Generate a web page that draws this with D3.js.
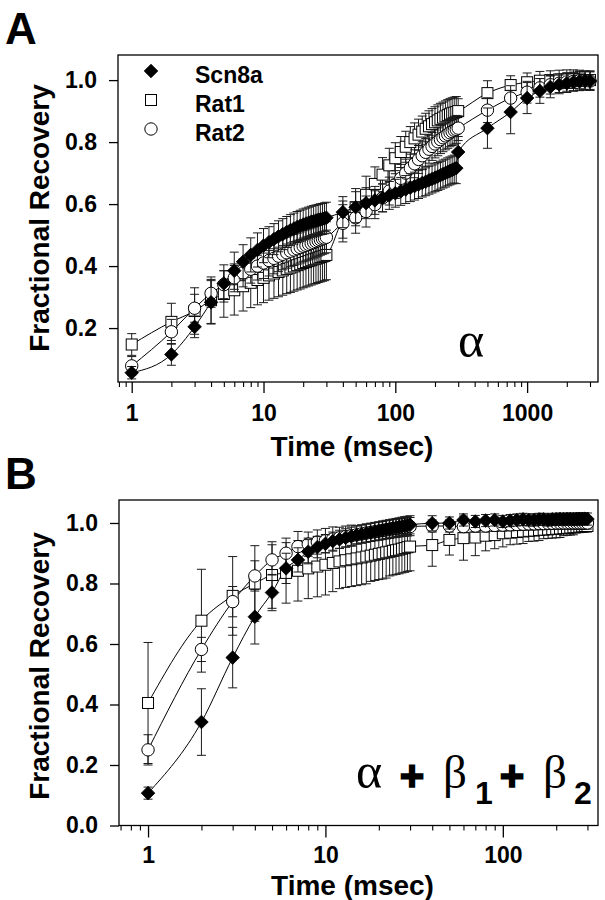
<!DOCTYPE html>
<html><head><meta charset="utf-8">
<script src="https://cdn.jsdelivr.net/npm/d3@7"></script>
<style>body{margin:0;background:#fff}</style>
</head><body>
<svg id="c" width="605" height="900" xmlns="http://www.w3.org/2000/svg"></svg>
<script>
// ---------------- DATA ----------------
const seriesNames = ["Scn8a", "Rat1", "Rat2"];

// Panel A (alpha alone): time points (msec)
const tA_early = [1,2,3,4,5,6,7,8,9,10,11,12,13,14,15,16,17,18,19,20,21,22,23,24,25,26,27,28,29,30];
const tA_mid   = [40,50,60,70,80,90,100,110,120,130,140,150,160,170,180,190,200,210,220,230,240,250,260,270,280,290];
const tA_long  = [300,500,750,1000,1250,1500,1750,2000,2250,2500,2750,3000];

const A_Scn8a_early = [0.056,0.115,0.204,0.283,0.344,0.385,0.414,0.436,0.452,0.466,0.477,0.487,0.496,0.503,0.510,0.516,0.521,0.526,0.530,0.534,0.537,0.540,0.543,0.545,0.547,0.549,0.551,0.552,0.554,0.556];
const A_Scn8a_early_err = [0.02,0.035,0.035,0.07,0.06,0.06,0.055,0.055,0.055,0.055,0.05,0.05,0.05,0.05,0.05,0.05,0.05,0.05,0.05,0.05,0.05,0.05,0.05,0.05,0.05,0.05,0.05,0.05,0.05,0.05];
const A_Scn8a_mid = [0.574,0.590,0.603,0.612,0.620,0.628,0.635,0.641,0.647,0.653,0.658,0.663,0.668,0.672,0.677,0.681,0.685,0.689,0.693,0.697,0.700,0.704,0.707,0.710,0.713,0.716];
const A_Scn8a_mid_err = [0.05,0.05,0.05,0.045,0.045,0.045,0.045,0.045,0.045,0.045,0.045,0.045,0.045,0.045,0.045,0.045,0.045,0.045,0.045,0.045,0.045,0.045,0.045,0.045,0.045,0.05];
const A_Scn8a_long = [0.768,0.845,0.897,0.942,0.965,0.978,0.986,0.990,0.994,0.996,0.998,0.997];
const A_Scn8a_long_err = [0.05,0.065,0.07,0.05,0.04,0.035,0.03,0.03,0.03,0.03,0.03,0.03];

const A_Rat1_early = [0.147,0.220,0.255,0.290,0.310,0.322,0.335,0.346,0.355,0.362,0.370,0.376,0.381,0.386,0.391,0.395,0.399,0.403,0.406,0.410,0.413,0.416,0.419,0.422,0.424,0.427,0.429,0.431,0.433,0.436];
const A_Rat1_early_err = [0.035,0.06,0.075,0.075,0.075,0.08,0.08,0.08,0.08,0.08,0.08,0.08,0.08,0.08,0.08,0.08,0.08,0.08,0.08,0.08,0.08,0.08,0.08,0.08,0.08,0.08,0.08,0.08,0.08,0.08];
const A_Rat1_mid = [0.550,0.590,0.630,0.665,0.695,0.725,0.748,0.768,0.785,0.800,0.812,0.824,0.834,0.843,0.851,0.858,0.864,0.870,0.875,0.879,0.883,0.887,0.890,0.893,0.895,0.897];
const A_Rat1_mid_err = [0.06,0.06,0.06,0.055,0.055,0.055,0.05,0.05,0.05,0.05,0.05,0.05,0.05,0.05,0.05,0.05,0.05,0.05,0.05,0.05,0.05,0.05,0.05,0.05,0.05,0.05];
const A_Rat1_long = [0.900,0.958,0.984,0.993,0.998,1.000,1.002,1.003,1.003,1.002,1.000,1.000];
const A_Rat1_long_err = [0.04,0.04,0.03,0.03,0.03,0.03,0.03,0.03,0.03,0.03,0.03,0.03];

const A_Rat2_early = [0.078,0.188,0.264,0.312,0.340,0.362,0.378,0.390,0.400,0.410,0.418,0.425,0.432,0.438,0.443,0.448,0.452,0.456,0.460,0.464,0.467,0.470,0.473,0.476,0.479,0.482,0.485,0.488,0.490,0.493];
const A_Rat2_early_err = [0.03,0.04,0.045,0.045,0.045,0.045,0.045,0.045,0.045,0.05,0.05,0.05,0.05,0.05,0.05,0.05,0.05,0.05,0.05,0.05,0.05,0.05,0.05,0.05,0.05,0.05,0.05,0.05,0.05,0.05];
const A_Rat2_mid = [0.538,0.556,0.576,0.598,0.620,0.642,0.663,0.683,0.700,0.716,0.730,0.744,0.756,0.767,0.777,0.786,0.794,0.801,0.808,0.814,0.820,0.825,0.830,0.834,0.838,0.841];
const A_Rat2_mid_err = [0.06,0.05,0.05,0.045,0.045,0.045,0.045,0.045,0.045,0.045,0.045,0.045,0.045,0.045,0.045,0.045,0.045,0.045,0.045,0.045,0.045,0.045,0.045,0.045,0.045,0.045];
const A_Rat2_long = [0.845,0.903,0.942,0.961,0.975,0.985,0.990,0.994,0.996,0.998,0.998,0.997];
const A_Rat2_long_err = [0.04,0.04,0.04,0.035,0.03,0.03,0.03,0.03,0.03,0.03,0.03,0.03];

// Panel B (alpha + beta1 + beta2)
const tB_early = [1,2,3,4,5,6,7,8,9,10,11,12,13,14,15,16,17,18,19,20,21,22,23,24,25,26,27,28,29,30];
const tB_mid   = [40,50,60,70,80,90,100,110,120,130,140,150,160,170,180,190,200,210,220,230,240,250,260,270,280,290,300];

const B_Scn8a_early = [0.107,0.342,0.555,0.690,0.770,0.850,0.878,0.905,0.920,0.931,0.940,0.946,0.951,0.956,0.960,0.963,0.966,0.969,0.972,0.974,0.977,0.979,0.981,0.983,0.985,0.987,0.989,0.991,0.992,0.994];
const B_Scn8a_early_err = [0.02,0.11,0.10,0.09,0.06,0.05,0.04,0.04,0.035,0.03,0.03,0.03,0.03,0.03,0.03,0.03,0.03,0.03,0.03,0.03,0.03,0.03,0.03,0.03,0.03,0.03,0.03,0.03,0.03,0.03];
const B_Scn8a_mid = [0.999,1.000,1.010,1.005,1.008,1.010,1.005,1.008,1.010,1.012,1.010,1.010,1.012,1.012,1.010,1.012,1.012,1.013,1.012,1.013,1.013,1.012,1.013,1.014,1.013,1.014,1.013];
const B_Scn8a_mid_err = [0.025,0.02,0.02,0.02,0.02,0.02,0.02,0.02,0.02,0.02,0.02,0.02,0.02,0.02,0.02,0.02,0.02,0.02,0.02,0.02,0.02,0.02,0.02,0.02,0.02,0.02,0.02];

const B_Rat1_early = [0.405,0.677,0.759,0.800,0.828,0.835,0.842,0.850,0.856,0.862,0.868,0.873,0.877,0.880,0.883,0.886,0.889,0.892,0.895,0.898,0.900,0.903,0.905,0.908,0.910,0.912,0.915,0.917,0.920,0.922];
const B_Rat1_early_err = [0.20,0.17,0.13,0.125,0.11,0.10,0.10,0.10,0.10,0.10,0.095,0.09,0.09,0.09,0.09,0.09,0.09,0.085,0.085,0.085,0.085,0.085,0.08,0.08,0.08,0.08,0.08,0.08,0.08,0.08];
const B_Rat1_mid = [0.927,0.944,0.950,0.952,0.958,0.960,0.966,0.968,0.970,0.972,0.974,0.975,0.977,0.978,0.979,0.980,0.981,0.982,0.983,0.984,0.985,0.986,0.987,0.988,0.989,0.990,0.990];
const B_Rat1_mid_err = [0.07,0.05,0.073,0.06,0.05,0.045,0.045,0.04,0.04,0.04,0.035,0.035,0.035,0.03,0.03,0.03,0.03,0.03,0.025,0.025,0.025,0.025,0.02,0.02,0.02,0.02,0.02];

const B_Rat2_early = [0.250,0.582,0.740,0.825,0.878,0.900,0.922,0.930,0.937,0.942,0.947,0.951,0.955,0.958,0.961,0.964,0.967,0.969,0.971,0.973,0.975,0.977,0.979,0.981,0.982,0.984,0.985,0.986,0.987,0.988];
const B_Rat2_early_err = [0.05,0.04,0.05,0.05,0.05,0.05,0.05,0.04,0.04,0.04,0.04,0.035,0.035,0.035,0.03,0.03,0.03,0.03,0.03,0.03,0.03,0.03,0.03,0.03,0.03,0.03,0.03,0.03,0.03,0.03];
const B_Rat2_mid = [0.990,0.990,0.988,0.990,0.990,0.992,0.993,0.994,0.995,0.996,0.997,0.997,0.998,0.998,0.999,0.999,1.000,1.000,1.000,1.000,1.000,1.000,1.000,1.000,1.000,1.000,1.000];
const B_Rat2_mid_err = [0.02,0.02,0.02,0.02,0.02,0.02,0.02,0.02,0.02,0.02,0.02,0.02,0.02,0.02,0.02,0.02,0.02,0.02,0.02,0.02,0.02,0.02,0.02,0.02,0.02,0.02,0.02];

// Axis ticks
const yTickVals_A = [0.2,0.4,0.6,0.8,1.0];
const yTickVals_B = [0.0,0.2,0.4,0.6,0.8,1.0];
const xMajor_A = [1,10,100,1000];
const xMinor_A = [0.8,0.9,2,3,4,5,6,7,8,9,20,30,40,50,60,70,80,90,200,300,400,500,600,700,800,900,2000,3000];
const xMajor_B = [1,10,100];
const xMinor_B = [0.7,0.8,0.9,2,3,4,5,6,7,8,9,20,30,40,50,60,70,80,90,200,300];

// ---------------- DRAWING ----------------
const SANS = "'Liberation Sans', Arial, Helvetica, sans-serif";
const SERIF = "'Liberation Serif', 'Times New Roman', serif";
const svg = d3.select("#c");

function zipPts(ts, vs, es) { return ts.map((t,i) => ({t, v: vs[i], e: es[i]})); }

function marker(g, type, cx, cy) {
  if (type === "diamond") {
    const r = 6.8;
    g.append("path").attr("d", `M${cx},${cy-r}L${cx+r},${cy}L${cx},${cy+r}L${cx-r},${cy}Z`)
      .attr("fill", "#000").attr("stroke", "#000").attr("stroke-width", 0.8);
  } else if (type === "square") {
    const h = 5.5;
    g.append("rect").attr("x", cx-h).attr("y", cy-h).attr("width", 2*h).attr("height", 2*h)
      .attr("fill", "#fff").attr("stroke", "#000").attr("stroke-width", 1);
  } else {
    g.append("circle").attr("cx", cx).attr("cy", cy).attr("r", 6.2)
      .attr("fill", "#fff").attr("stroke", "#000").attr("stroke-width", 1);
  }
}

function drawPanel(o) {
  const x = d3.scaleLog().domain(o.xDomain).range([o.left, o.right]);
  const y = d3.scaleLinear().domain(o.yDomain).range([o.bottom, o.top]);
  const g = svg.append("g");

  // lines
  o.series.forEach(s => {
    g.append("path").datum(s.pts)
      .attr("fill", "none").attr("stroke", "#000").attr("stroke-width", 1)
      .attr("d", d3.line().x(d => x(d.t)).y(d => y(d.v)).curve(d3.curveMonotoneX));
  });
  // error bars + markers, series by series
  o.series.forEach(s => {
    const eg = g.append("g").attr("stroke", "#1a1a1a").attr("stroke-width", 1);
    s.pts.forEach(d => {
      const px = x(d.t), y1 = y(d.v + d.e), y2 = y(d.v - d.e);
      eg.append("line").attr("x1", px).attr("x2", px).attr("y1", y1).attr("y2", y2);
      eg.append("line").attr("x1", px-4.5).attr("x2", px+4.5).attr("y1", y1).attr("y2", y1);
      eg.append("line").attr("x1", px-4.5).attr("x2", px+4.5).attr("y1", y2).attr("y2", y2);
    });
    const mg = g.append("g");
    s.pts.forEach(d => marker(mg, s.type, x(d.t), y(d.v)));
  });

  // frame
  g.append("rect").attr("x", o.left).attr("y", o.top)
    .attr("width", o.right - o.left).attr("height", o.bottom - o.top)
    .attr("fill", "none").attr("stroke", "#000").attr("stroke-width", 1.3);

  // y axis
  const ya = g.append("g").attr("transform", `translate(${o.left},0)`)
    .call(d3.axisLeft(y).tickValues(o.yTicks).tickFormat(d3.format(".1f")).tickSize(9).tickPadding(12));
  ya.select(".domain").remove();
  ya.selectAll("line").attr("stroke-width", 1.3);
  ya.selectAll("text").attr("font-family", SANS).attr("font-weight", "bold").attr("font-size", 23).attr("fill", "#000");

  // x axis major
  const xa = g.append("g").attr("transform", `translate(0,${o.bottom})`)
    .call(d3.axisBottom(x).tickValues(o.xMajor).tickFormat(d3.format("d")).tickSize(o.majorLen).tickPadding(o.xPad));
  xa.select(".domain").remove();
  xa.selectAll("line").attr("stroke-width", 1.3);
  xa.selectAll("text").attr("font-family", SANS).attr("font-weight", "bold").attr("font-size", 23).attr("fill", "#000");
  // x axis minor
  const xm = g.append("g").attr("transform", `translate(0,${o.bottom})`)
    .call(d3.axisBottom(x).tickValues(o.xMinor).tickFormat("").tickSize(5));
  xm.select(".domain").remove();
  xm.selectAll("line").attr("stroke-width", 1.1);

  // axis titles
  g.append("text").attr("x", (o.left + o.right) / 2 - 6).attr("y", o.xTitleY)
    .attr("text-anchor", "middle").attr("font-family", SANS).attr("font-weight", "bold")
    .attr("font-size", 28).text("Time (msec)");
  g.append("text").attr("transform", `translate(${o.yTitleX},${o.yTitleCY}) rotate(-90)`)
    .attr("text-anchor", "middle").attr("font-family", SANS).attr("font-weight", "bold")
    .attr("font-size", 28).text("Fractional Recovery");
  // panel letter
  g.append("text").attr("x", 5).attr("y", o.letterY).attr("font-family", SANS).attr("font-weight", "bold")
    .attr("font-size", 44).text(o.letter);
  return {x, y, g};
}

const seriesA = [
  {name: "Rat1", type: "square", pts: zipPts(tA_early.concat(tA_mid, tA_long), A_Rat1_early.concat(A_Rat1_mid, A_Rat1_long), A_Rat1_early_err.concat(A_Rat1_mid_err, A_Rat1_long_err))},
  {name: "Rat2", type: "circle", pts: zipPts(tA_early.concat(tA_mid, tA_long), A_Rat2_early.concat(A_Rat2_mid, A_Rat2_long), A_Rat2_early_err.concat(A_Rat2_mid_err, A_Rat2_long_err))},
  {name: "Scn8a", type: "diamond", pts: zipPts(tA_early.concat(tA_mid, tA_long), A_Scn8a_early.concat(A_Scn8a_mid, A_Scn8a_long), A_Scn8a_early_err.concat(A_Scn8a_mid_err, A_Scn8a_long_err))}
];
const seriesB = [
  {name: "Rat1", type: "square", pts: zipPts(tB_early.concat(tB_mid), B_Rat1_early.concat(B_Rat1_mid), B_Rat1_early_err.concat(B_Rat1_mid_err))},
  {name: "Rat2", type: "circle", pts: zipPts(tB_early.concat(tB_mid), B_Rat2_early.concat(B_Rat2_mid), B_Rat2_early_err.concat(B_Rat2_mid_err))},
  {name: "Scn8a", type: "diamond", pts: zipPts(tB_early.concat(tB_mid), B_Scn8a_early.concat(B_Scn8a_mid), B_Scn8a_early_err.concat(B_Scn8a_mid_err))}
];

const pA = drawPanel({
  letter: "A", letterY: 44,
  left: 118, right: 598, top: 55, bottom: 382,
  xDomain: [0.787, 3450], yDomain: [0.026, 1.081],
  yTicks: yTickVals_A, xMajor: xMajor_A, xMinor: xMinor_A, majorLen: 11, xPad: 12,
  xTitleY: 456, yTitleX: 49, yTitleCY: 218,
  series: seriesA
});
const pB = drawPanel({
  letter: "B", letterY: 489,
  left: 119, right: 598, top: 500, bottom: 825.5,
  xDomain: [0.686, 344], yDomain: [0, 1.076],
  yTicks: yTickVals_B, xMajor: xMajor_B, xMinor: xMinor_B, majorLen: 12, xPad: 9,
  xTitleY: 895, yTitleX: 49, yTitleCY: 666,
  series: seriesB
});

// Legend (panel A)
const leg = svg.append("g");
const legTypes = {"Scn8a": "diamond", "Rat1": "square", "Rat2": "circle"};
seriesNames.forEach((n, i) => {
  const cy = 71 + i * 29;
  marker(leg, legTypes[n], 151, cy);
  leg.append("text").attr("x", 195).attr("y", cy + 5).attr("dy", "0.3em")
    .attr("font-family", SANS).attr("font-weight", "bold").attr("font-size", 23).text(n);
});

// Annotations
svg.append("text").attr("x", 471).attr("y", 357).attr("text-anchor", "middle")
  .attr("font-family", SERIF).attr("font-size", 50).text("α");

const ann = svg.append("g");
ann.append("text").attr("x", 356).attr("y", 788).attr("font-family", SERIF).attr("font-size", 50).text("α");
ann.append("text").attr("x", 412).attr("y", 790).attr("text-anchor", "middle").attr("font-family", SANS).attr("font-weight", "bold")
  .attr("font-size", 42).attr("stroke", "#000").attr("stroke-width", 1.6).text("+");
ann.append("text").attr("x", 443).attr("y", 788).attr("font-family", SERIF).attr("font-size", 47).text("β");
ann.append("text").attr("x", 475).attr("y", 804).attr("font-family", SANS).attr("font-weight", "bold").attr("font-size", 32).text("1");
ann.append("text").attr("x", 512).attr("y", 790).attr("text-anchor", "middle").attr("font-family", SANS).attr("font-weight", "bold")
  .attr("font-size", 42).attr("stroke", "#000").attr("stroke-width", 1.6).text("+");
ann.append("text").attr("x", 543).attr("y", 788).attr("font-family", SERIF).attr("font-size", 47).text("β");
ann.append("text").attr("x", 574).attr("y", 804).attr("font-family", SANS).attr("font-weight", "bold").attr("font-size", 32).text("2");
</script>
</body></html>
